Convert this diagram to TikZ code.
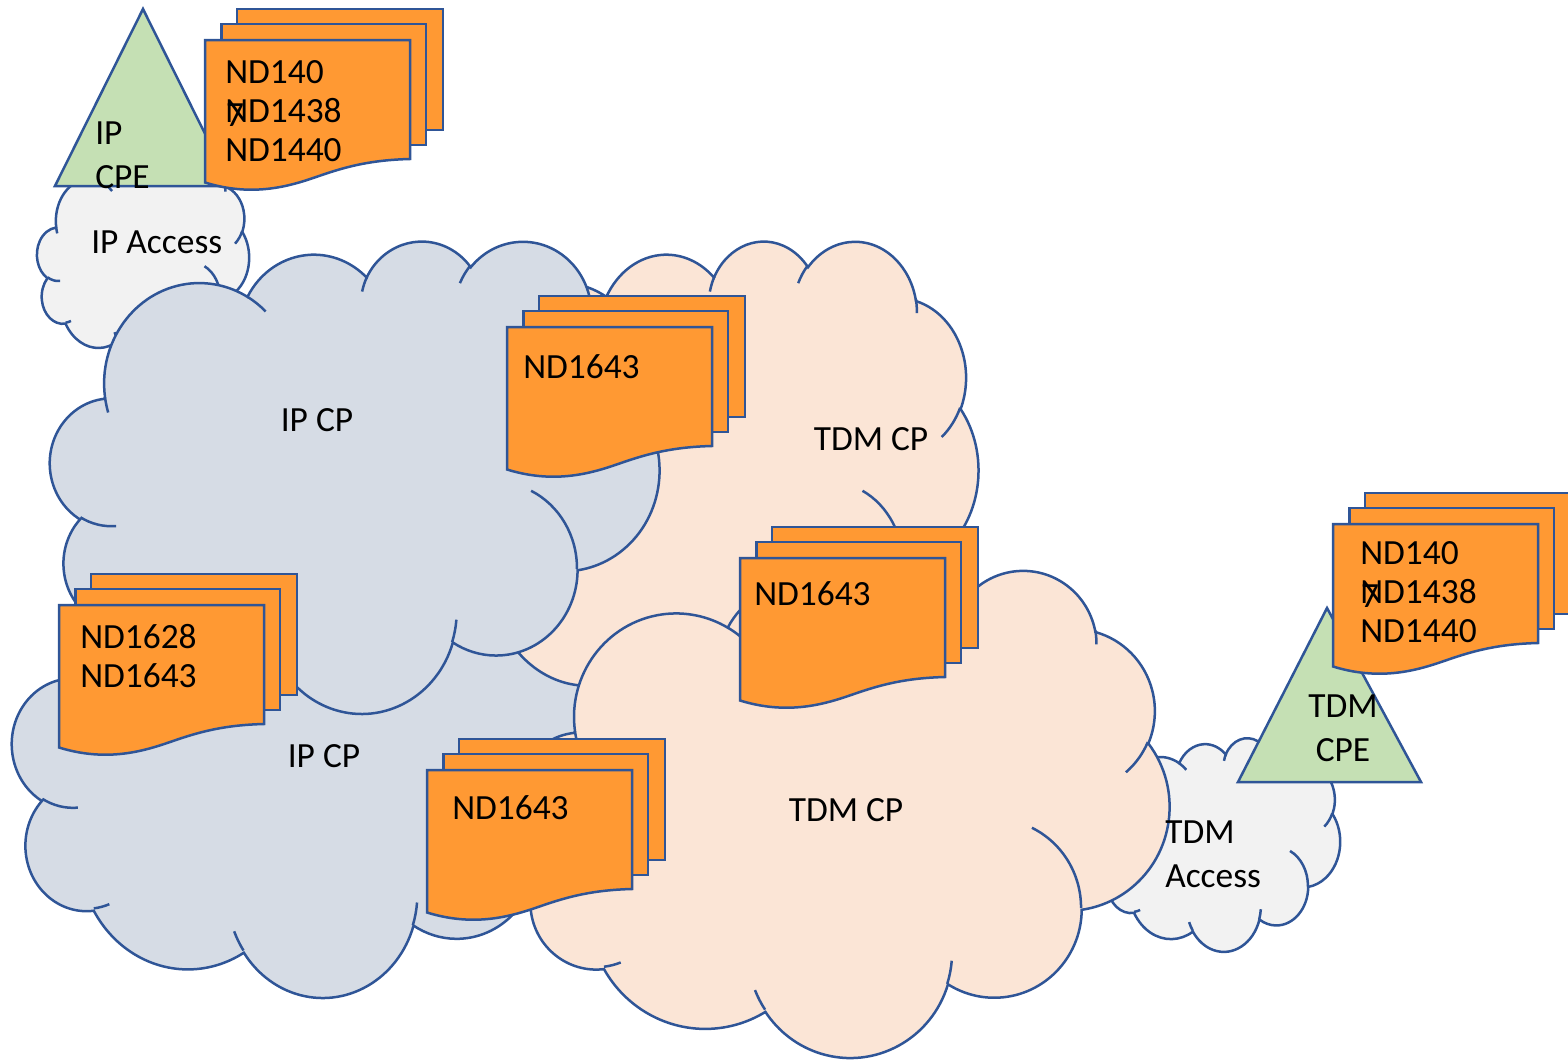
\documentclass[tikz,border=0pt]{standalone}
\usepackage{fontspec}
\setmainfont{Carlito}
\definecolor{edgeblue}{HTML}{2F5597}
\definecolor{ipblue}{HTML}{D6DCE5}
\definecolor{tdmpeach}{HTML}{FBE5D6}
\definecolor{accessgrey}{HTML}{F2F2F2}
\definecolor{cpegreen}{HTML}{C5E0B4}
\definecolor{docorange}{HTML}{FF9933}
\tikzset{
  ipcloud/.style={draw=edgeblue, fill=ipblue},
  tdmcloud/.style={draw=edgeblue, fill=tdmpeach},
  accesscloud/.style={draw=edgeblue, fill=accessgrey},
  cpe/.style={draw=edgeblue, fill=cpegreen, line join=miter},
  page/.style={draw=edgeblue, fill=docorange},
  doctext/.style={inner sep=0, anchor=west, align=left, font=\fontsize{35.4}{39}\selectfont},
  cloudtext/.style={inner sep=0, align=left, font=\fontsize{35.4}{44}\selectfont},
  cloudshape/.pic={
    \draw[pic actions] (39,143.7)
      arc (-187.75:-59.6:67.53 and 91.9)
      arc (-152.05:-45.4:53.33 and 72.67)
      arc (-153.5:-37.2:43.65 and 59.45)
      arc (-139.7:-10.2:48.57 and 65.95)
      arc (-74.8:23.2:53.33 and 72.73)
      arc (-37.6:81.86:67.75 and 92.2)
      arc (0.46:121.98:57.85 and 78.67)
      arc (16.85:146.25:67.52 and 92.15)
      arc (58.95:150.2:77.2 and 105.43)
      arc (83.3:223.1:43.6 and 59.18)
      arc (120.36:264.1:43.45 and 59.45) -- cycle;
    \foreach \px/\py/\sa/\ea/\rx/\ry in {
      46.93/261.77/85.54/120.36/43.45/59.45,
      69.28/348.99/68.25/83.3/43.6/59.18,
      164.78/390.9/146.25/158.47/67.52/92.15,
      288.27/347.51/4.74/17.8/67.52/92.15,
      341.29/229.54/-64.03/0.46/57.85/78.67,
      417.98/153.54/23.2/49.64/53.33/72.73,
      383.24/54.26/-10.2/0.82/48.57/65.95,
      290.78/39.52/-156.3/-139.7/48.57/65.95,
      221.41/47.2/-167.7/-153.5/43.65/59.45,
      140/51.92/-59.6/-45.7/67.53/91.9,
      41.27/157.89/163.19/172.25/67.53/91.9}{
      \draw[pic actions, fill=none] (\px,\py) arc[start angle=\sa, end angle=\ea, x radius=\rx, y radius=\ry];
    }
  },
  docstack/.pic={
    \draw[page] (32,0) rectangle (238,121);
    \draw[page] (16.5,15) rectangle (221,136);
    \draw[page] (0,31) -- (205,31) -- (205,150)
      .. controls (165,151) and (140,158) .. (114,167)
      .. controls (88,176) and (50,189) .. (0,173.5) -- cycle;
  }
}
\begin{document}
\begin{tikzpicture}[x=1pt, y=-1pt, line width=2.5pt]
\useasboundingbox (0,0) rectangle (1568,1060);

% clouds, back to front
\pic[accesscloud, xscale=238/432, yscale=213.5/432] at (1102,737.5) {cloudshape};
\pic[accesscloud, xscale=212/432, yscale=198/432] at (37,161) {cloudshape};
\pic[ipcloud, xscale=607/432, yscale=478/432] at (12,518) {cloudshape};
\pic[tdmcloud, xscale=550/432, yscale=472/432] at (428,240) {cloudshape};
\pic[ipcloud, xscale=609/432, yscale=472/432] at (50,240) {cloudshape};
\pic[tdmcloud, xscale=653/432, yscale=487/432] at (516,569) {cloudshape};

% CPE triangles
\draw[cpe] (143,9) -- (231,186) -- (55,186) -- cycle;
\draw[cpe] (1327,608) -- (1421,782) -- (1238,782) -- cycle;

% document stacks
\pic at (205,9) {docstack};
\pic at (507,296) {docstack};
\pic at (740,527) {docstack};
\pic at (427,739) {docstack};
\pic at (59,574) {docstack};
\pic at (1333,493) {docstack};

\node[cloudtext, anchor=west](ipaccess) at (90,242){IP Access};
\node[cloudtext](ipcp1) at (317,420){IP CP};
\node[cloudtext](ipcp2) at (324,756){IP CP};
\node[cloudtext](tdmcp1) at (871,439){TDM CP};
\node[cloudtext](tdmcp2) at (846,810){TDM CP};
\node[cloudtext, anchor=west](tdmaccess) at (1164,854){TDM\\Access};
\node[cloudtext, anchor=west](ipcpe) at (94,155){IP\\CPE};
\node[cloudtext, align=center](tdmcpe) at (1343,728){TDM\\CPE};

\node[doctext](ipnds) at (224,111.5){ND140\\ND1438\\ND1440};
\node[doctext, anchor=center](ipseven) at (235,115){7};
\node[doctext](tdmnds) at (1359,592.5){ND140\\ND1438\\ND1440};
\node[doctext, anchor=center](tdmseven) at (1370,596.5){7};
\node[doctext](ipnd1) at (522,367){ND1643};
\node[doctext](ipnd2) at (79,656){ND1628\\ND1643};
\node[doctext](ipnd3) at (451,808){ND1643};
\node[doctext](tdmnd) at (753,594){ND1643};
\end{tikzpicture}
\end{document}
